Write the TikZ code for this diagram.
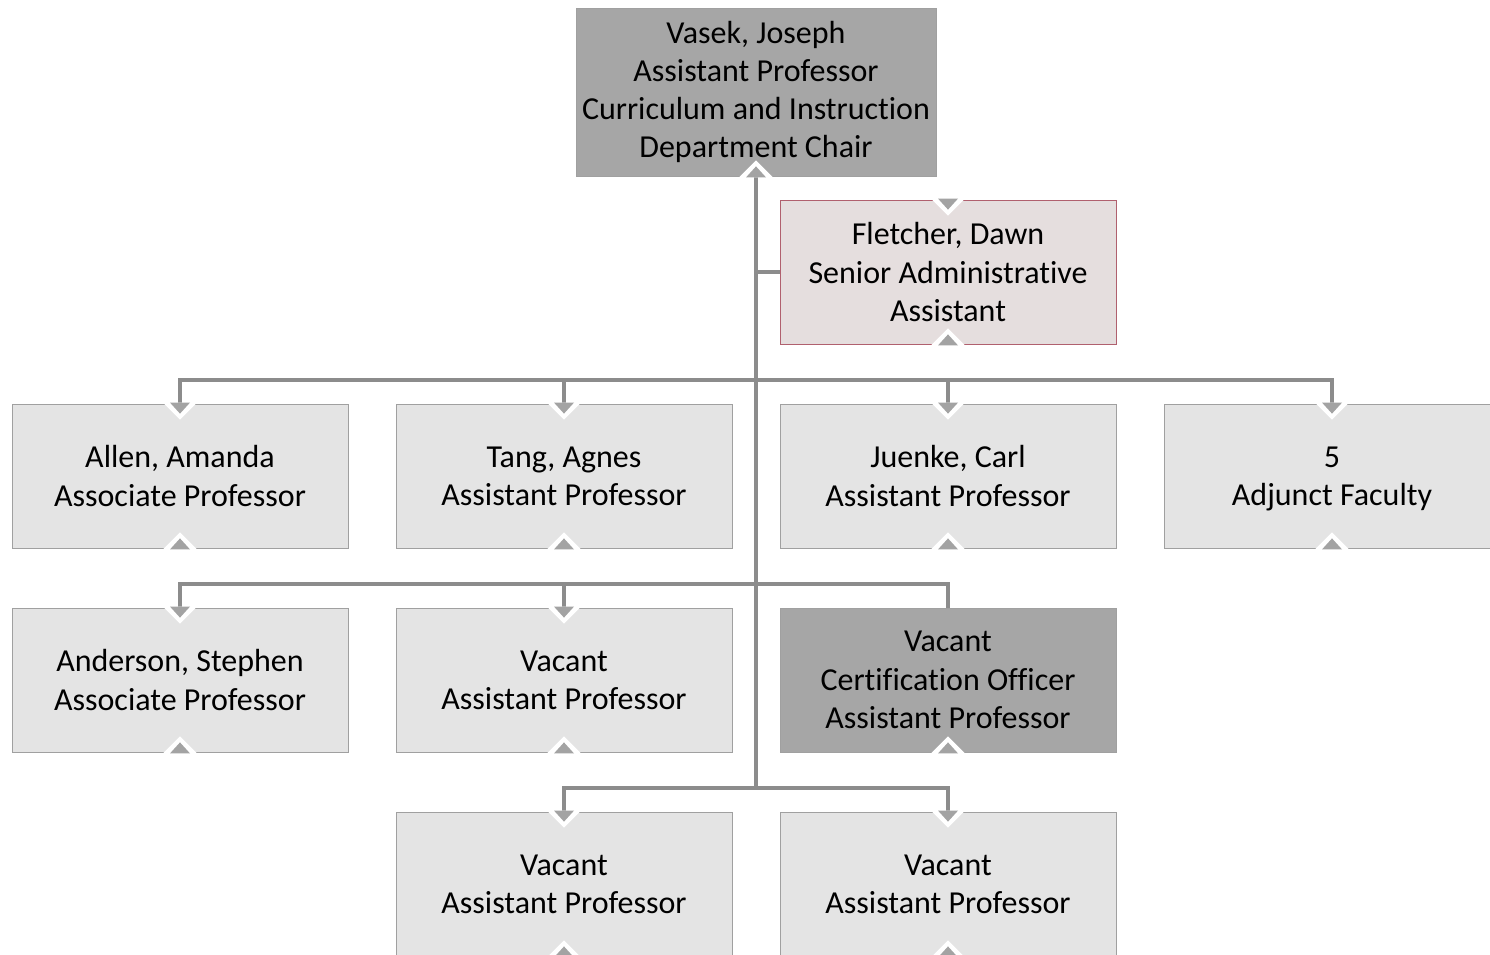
\documentclass[tikz,border=0pt]{standalone}
\usepackage{fontspec}
\setmainfont{Carlito}[Ligatures={NoCommon}]
\definecolor{boxlight}{HTML}{E4E4E4}
\definecolor{boxdark}{HTML}{A6A6A6}
\definecolor{boxedge}{HTML}{A0A0A0}
\definecolor{pinkfill}{HTML}{E5DEDE}
\definecolor{pinkedge}{HTML}{B0606E}
\definecolor{connc}{HTML}{8C8C8C}
\definecolor{notchc}{HTML}{A3A3A3}
\newcommand\topnotch[1]{%
  \fill[white,shift={(#1.north)}] (-17,-1) -- (17,-1) -- (0,16) -- cycle;
  \fill[notchc,shift={(#1.north)}] (-10,-1) -- (10,-1) -- (0,10) -- cycle;}
\newcommand\botnotch[1]{%
  \fill[white,shift={(#1.south)}] (-17,1) -- (17,1) -- (0,-16) -- cycle;
  \fill[notchc,shift={(#1.south)}] (-10,1) -- (10,1) -- (0,-10) -- cycle;}
\tikzset{
  orgbox/.style={draw=boxedge, line width=0.8pt, fill=boxlight, minimum width=336pt,
    minimum height=144pt, align=center, inner sep=0pt,
    font=\fontsize{32}{38.3}\selectfont, text=black},
  darkbox/.style={orgbox, fill=boxdark},
  pinkbox/.style={orgbox, draw=pinkedge, fill=pinkfill},
  conn/.style={draw=connc, line width=4pt}
}
\begin{document}
\begin{tikzpicture}[x=1pt,y=-1pt]
\clip (0,0) rectangle (1490,954);
\fill[white] (0,0) rectangle (1490,954);
% boxes
\node[darkbox, minimum width=360pt, minimum height=168pt] (vasek) at (756,92) {Vasek, Joseph\\Assistant Professor\\Curriculum and Instruction\\Department Chair};
\node[pinkbox] (fletcher) at (948,272) {Fletcher, Dawn\\Senior Administrative\\Assistant};
\node[orgbox] (allen) at (180,476) {Allen, Amanda\\Associate Professor};
\node[orgbox] (tang) at (564,476) {Tang, Agnes\\Assistant Professor};
\node[orgbox] (juenke) at (948,476) {Juenke, Carl\\Assistant Professor};
\node[orgbox] (adjunct) at (1332,476) {5\vphantom{Jg}\\\raisebox{0pt}[\height][0pt]{Adjunct Faculty}};
\node[orgbox] (anderson) at (180,680) {Anderson, Stephen\\Associate Professor};
\node[orgbox] (vacA) at (564,680) {Vacant\vphantom{Jg}\\Assistant Professor};
\node[darkbox] (cert) at (948,680) {Vacant\\Certification Officer\\Assistant Professor};
\node[orgbox] (vacB) at (564,884) {Vacant\vphantom{Jg}\\Assistant Professor};
\node[orgbox] (vacC) at (948,884) {Vacant\vphantom{Jg}\\Assistant Professor};
% connectors
\coordinate (busA) at (756,380);
\coordinate (busB) at (756,584);
\coordinate (busC) at (756,788);
\draw[conn] (vasek.south) -- (busC);
\draw[conn] (busA |- fletcher.west) -- (fletcher.west);
\draw[conn] (busA) -| (allen.north);
\draw[conn] (busA) -| (tang.north);
\draw[conn] (busA) -| (juenke.north);
\draw[conn] (busA) -| (adjunct.north);
\draw[conn] (busB) -| (anderson.north);
\draw[conn] (busB) -| (vacA.north);
\draw[conn] (busB) -| (cert.north);
\draw[conn] (busC) -| (vacB.north);
\draw[conn] (busC) -| (vacC.north);
% notches
\botnotch{vasek}
\topnotch{fletcher}\botnotch{fletcher}
\topnotch{allen}\botnotch{allen}
\topnotch{tang}\botnotch{tang}
\topnotch{juenke}\botnotch{juenke}
\topnotch{adjunct}\botnotch{adjunct}
\topnotch{anderson}\botnotch{anderson}
\topnotch{vacA}\botnotch{vacA}
\botnotch{cert}
\topnotch{vacB}\botnotch{vacB}
\topnotch{vacC}\botnotch{vacC}
\end{tikzpicture}
\end{document}
